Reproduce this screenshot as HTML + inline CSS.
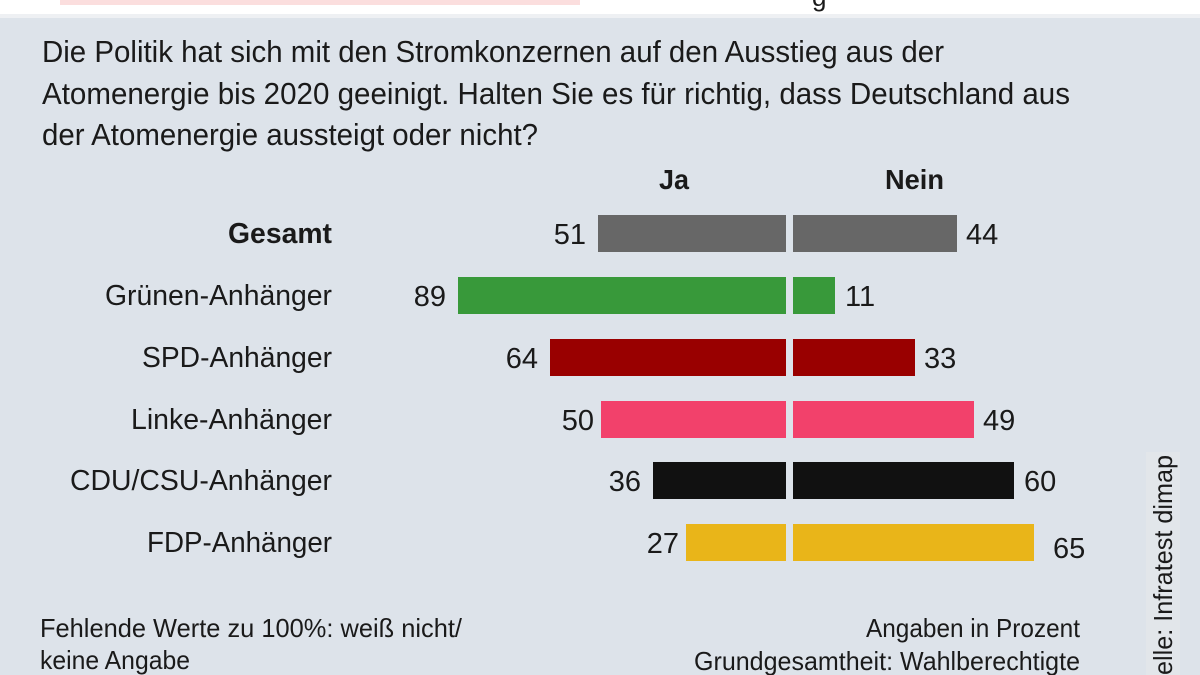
<!DOCTYPE html>
<html><head><meta charset="utf-8"><style>
html,body{margin:0;padding:0;background:#dde3ea;}
svg{display:block;}
text{font-family:"Liberation Sans Narrow","Liberation Sans",sans-serif;fill:#1a1a1a;}
</style></head><body>
<svg width="1200" height="675" viewBox="0 0 1200 675" xmlns="http://www.w3.org/2000/svg">
<rect x="0" y="0" width="1200" height="675" fill="#dde3ea"/>
<rect x="0" y="0" width="1200" height="16" fill="#ffffff"/>
<rect x="0" y="14" width="1200" height="4" fill="#eef0f3"/>
<rect x="60" y="0" width="520" height="5" fill="#fbdede"/>
<text x="812" y="6" font-size="26" fill="#333">g</text>

<g font-size="31">
<text x="42" y="62" textLength="902" lengthAdjust="spacingAndGlyphs">Die Politik hat sich mit den Stromkonzernen auf den Ausstieg aus der</text>
<text x="42" y="104" textLength="1028" lengthAdjust="spacingAndGlyphs">Atomenergie bis 2020 geeinigt. Halten Sie es für richtig, dass Deutschland aus</text>
<text x="42" y="145" textLength="496" lengthAdjust="spacingAndGlyphs">der Atomenergie aussteigt oder nicht?</text>
</g>

<g font-size="28" font-weight="bold">
<text x="659" y="189" textLength="30" lengthAdjust="spacingAndGlyphs">Ja</text>
<text x="885" y="189" textLength="59" lengthAdjust="spacingAndGlyphs">Nein</text>
</g>

<g font-size="29" text-anchor="end">
<text x="332" y="243" font-weight="bold" textLength="104" lengthAdjust="spacingAndGlyphs">Gesamt</text>
<text x="332" y="305" textLength="227" lengthAdjust="spacingAndGlyphs">Grünen-Anhänger</text>
<text x="332" y="367" textLength="190" lengthAdjust="spacingAndGlyphs">SPD-Anhänger</text>
<text x="332" y="429" textLength="201" lengthAdjust="spacingAndGlyphs">Linke-Anhänger</text>
<text x="332" y="490" textLength="262" lengthAdjust="spacingAndGlyphs">CDU/CSU-Anhänger</text>
<text x="332" y="552" textLength="185" lengthAdjust="spacingAndGlyphs">FDP-Anhänger</text>
</g>

<g>
<rect x="598" y="215" width="188" height="37" fill="#676767"/>
<rect x="793" y="215" width="164" height="37" fill="#676767"/>
<rect x="458" y="277" width="328" height="37" fill="#38993a"/>
<rect x="793" y="277" width="42" height="37" fill="#38993a"/>
<rect x="550" y="339" width="236" height="37" fill="#990000"/>
<rect x="793" y="339" width="122" height="37" fill="#990000"/>
<rect x="601" y="401" width="185" height="37" fill="#f2416b"/>
<rect x="793" y="401" width="181" height="37" fill="#f2416b"/>
<rect x="653" y="462" width="133" height="37" fill="#111111"/>
<rect x="793" y="462" width="221" height="37" fill="#111111"/>
<rect x="686" y="524" width="100" height="37" fill="#e9b519"/>
<rect x="793" y="524" width="241" height="37" fill="#e9b519"/>
</g>

<g font-size="29" fill="#333">
<text x="586" y="244" text-anchor="end">51</text>
<text x="966" y="244">44</text>
<text x="446" y="306" text-anchor="end">89</text>
<text x="845" y="306">11</text>
<text x="538" y="368" text-anchor="end">64</text>
<text x="924" y="368">33</text>
<text x="594" y="430" text-anchor="end">50</text>
<text x="983" y="430">49</text>
<text x="641" y="491" text-anchor="end">36</text>
<text x="1024" y="491">60</text>
<text x="679" y="553" text-anchor="end">27</text>
<text x="1053" y="558">65</text>
</g>

<g font-size="26">
<text x="40" y="637" textLength="422" lengthAdjust="spacingAndGlyphs">Fehlende Werte zu 100%: weiß nicht/</text>
<text x="40" y="669" textLength="150" lengthAdjust="spacingAndGlyphs">keine Angabe</text>
<text x="1080" y="637" text-anchor="end" textLength="214" lengthAdjust="spacingAndGlyphs">Angaben in Prozent</text>
<text x="1080" y="670" text-anchor="end" textLength="386" lengthAdjust="spacingAndGlyphs">Grundgesamtheit: Wahlberechtigte</text>
</g>

<rect x="1146" y="452" width="34" height="223" fill="#e2e6ea"/>
<text transform="translate(1172,675) rotate(-90)" font-size="26" textLength="220" lengthAdjust="spacingAndGlyphs">elle: Infratest dimap</text>
</svg>
</body></html>
